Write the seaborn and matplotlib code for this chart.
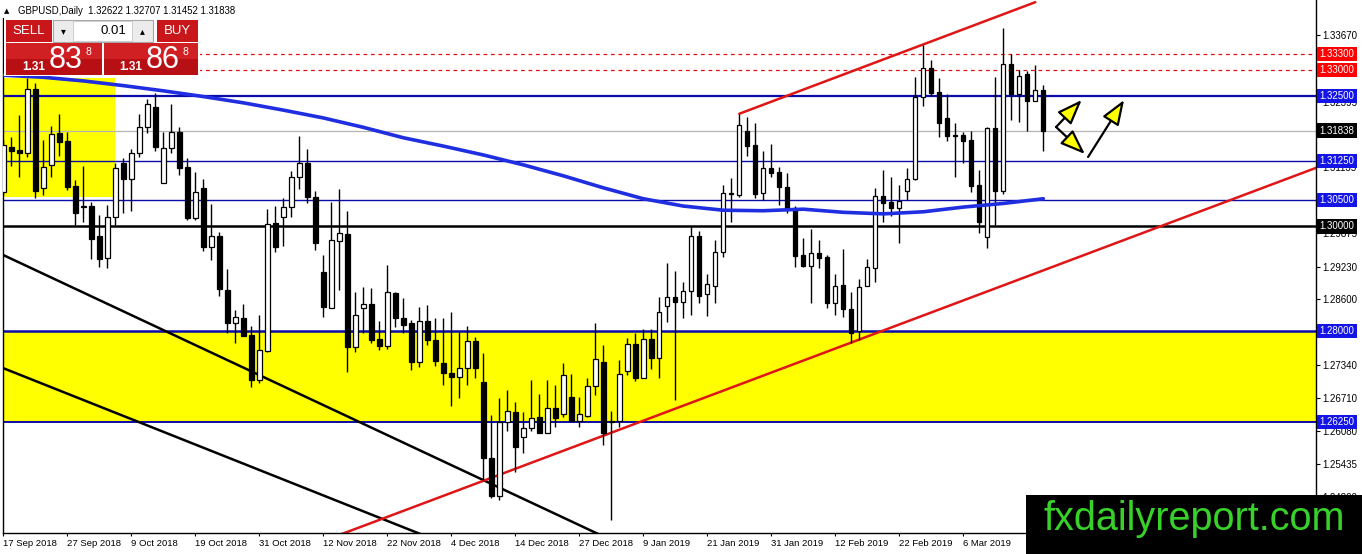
import numpy as np
import pandas as pd
import seaborn as sns
import matplotlib.pyplot as plt
from matplotlib.patches import Rectangle

# daily GBPUSD candles (bar 0 = 17 Sep 2018)
opens = [1.3066, 1.3152, 1.3147, 1.3141, 1.3264, 1.3074, 1.3118, 1.3179, 1.3164, 1.3078,
         1.3037, 1.3039, 1.2982, 1.2939, 1.3018, 1.3122, 1.3091, 1.3141, 1.3191, 1.3229,
         1.3083, 1.3150, 1.3181, 1.3114, 1.3016, 1.3074, 1.2960, 1.2982, 1.2878, 1.2815,
         1.2825, 1.2792, 1.2705, 1.2761, 1.3006, 1.3018, 1.3037, 1.3095, 1.3122, 1.3056,
         1.2913, 1.2843, 1.2972, 1.2985, 1.2769, 1.2843, 1.2851, 1.2784, 1.2771, 1.2872,
         1.2825, 1.2815, 1.2740, 1.2818, 1.2782, 1.2738, 1.2719, 1.2711, 1.2728, 1.2780,
         1.2702, 1.2556, 1.2483, 1.2625, 1.2644, 1.2596, 1.2613, 1.2634, 1.2604, 1.2652,
         1.2640, 1.2673, 1.2627, 1.2636, 1.2694, 1.2740, 1.2627, 1.2627, 1.2723, 1.2774,
         1.2709, 1.2784, 1.2748, 1.2847, 1.2865, 1.2855, 1.2876, 1.2982, 1.2870, 1.2886,
         1.2951, 1.3062, 1.3060, 1.3183, 1.3156, 1.3064, 1.3112, 1.3104, 1.3076, 1.3035,
         1.2945, 1.2924, 1.2949, 1.2941, 1.2853, 1.2888, 1.2841, 1.2799, 1.2886, 1.2920,
         1.3058, 1.3047, 1.3035, 1.3068, 1.3091, 1.3248, 1.3304, 1.3258, 1.3208, 1.3175,
         1.3175, 1.3166, 1.3079, 1.2980, 1.3189, 1.3068, 1.3312, 1.3254, 1.3292, 1.3240,
         1.32622]
highs = [1.3166, 1.3171, 1.3214, 1.3285, 1.3275, 1.3166, 1.3193, 1.3216, 1.3181, 1.3089,
         1.3116, 1.3047, 1.3022, 1.3041, 1.3122, 1.3131, 1.3148, 1.3216, 1.3244, 1.3256,
         1.3181, 1.3235, 1.3191, 1.3131, 1.3104, 1.3091, 1.3043, 1.2989, 1.2918, 1.2840,
         1.2851, 1.2809, 1.2830, 1.3033, 1.3039, 1.3054, 1.3106, 1.3173, 1.3148, 1.3068,
         1.2945, 1.3047, 1.3072, 1.3030, 1.2874, 1.2884, 1.2882, 1.2819, 1.2926, 1.2874,
         1.2863, 1.2820, 1.2845, 1.2849, 1.2825, 1.2825, 1.2836, 1.2798, 1.2809, 1.2788,
         1.2757, 1.2638, 1.2671, 1.2686, 1.2663, 1.2644, 1.2705, 1.2679, 1.2705, 1.2696,
         1.2738, 1.2717, 1.2673, 1.2709, 1.2815, 1.2773, 1.2646, 1.2744, 1.2786, 1.2796,
         1.2803, 1.2803, 1.2865, 1.2930, 1.2914, 1.2893, 1.3001, 1.2991, 1.2909, 1.2974,
         1.3079, 1.3093, 1.3216, 1.3210, 1.3198, 1.3145, 1.3158, 1.3114, 1.3102, 1.3039,
         1.2978, 1.2995, 1.2974, 1.2945, 1.2909, 1.2957, 1.2874, 1.2899, 1.2937, 1.3074,
         1.3108, 1.3095, 1.3079, 1.3112, 1.3287, 1.3348, 1.3319, 1.3285, 1.3254, 1.3198,
         1.3181, 1.3183, 1.3108, 1.3191, 1.3287, 1.3381, 1.3331, 1.3300, 1.3298, 1.3310,
         1.32707]
lows = [1.3060, 1.3116, 1.3095, 1.3133, 1.3054, 1.3060, 1.3095, 1.3135, 1.3070, 1.3003,
        1.3008, 1.2937, 1.2922, 1.2920, 1.3003, 1.3026, 1.3030, 1.3133, 1.3179, 1.3145,
        1.3083, 1.3141, 1.3099, 1.3012, 1.3012, 1.2953, 1.2936, 1.2867, 1.2796, 1.2776,
        1.2790, 1.2692, 1.2700, 1.2759, 1.2951, 1.2962, 1.3018, 1.3072, 1.3045, 1.2955,
        1.2826, 1.2843, 1.2878, 1.2721, 1.2759, 1.2796, 1.2776, 1.2763, 1.2765, 1.2807,
        1.2796, 1.2725, 1.2730, 1.2772, 1.2732, 1.2696, 1.2655, 1.2671, 1.2696, 1.2709,
        1.2514, 1.2479, 1.2475, 1.2608, 1.2529, 1.2565, 1.2608, 1.2604, 1.2604, 1.2615,
        1.2634, 1.2627, 1.2615, 1.2634, 1.2677, 1.2581, 1.2437, 1.2615, 1.2715, 1.2704,
        1.2709, 1.2726, 1.2709, 1.2817, 1.2667, 1.2824, 1.2830, 1.2853, 1.2828, 1.2853,
        1.2941, 1.3008, 1.3056, 1.3135, 1.3054, 1.3051, 1.3095, 1.3041, 1.3026, 1.2922,
        1.2922, 1.2853, 1.2920, 1.2843, 1.2830, 1.2826, 1.2776, 1.2782, 1.2886, 1.2893,
        1.3008, 1.3020, 1.2968, 1.3051, 1.3089, 1.3231, 1.3250, 1.3171, 1.3164, 1.3095,
        1.3122, 1.3066, 1.2987, 1.2958, 1.3003, 1.3062, 1.3204, 1.3200, 1.3183, 1.3240,
        1.31452]
closes = [1.3156, 1.3145, 1.3141, 1.3264, 1.3068, 1.3114, 1.3177, 1.3162, 1.3076, 1.3026,
          1.3038, 1.2976, 1.2937, 1.3018, 1.3112, 1.3091, 1.3141, 1.3191, 1.3235, 1.3152,
          1.3150, 1.3181, 1.3112, 1.3016, 1.3066, 1.2960, 1.2982, 1.2880, 1.2815, 1.2826,
          1.2790, 1.2705, 1.2763, 1.3005, 1.2960, 1.3037, 1.3095, 1.3122, 1.3056, 1.2968,
          1.2845, 1.2974, 1.2987, 1.2769, 1.2830, 1.2851, 1.2782, 1.2771, 1.2874, 1.2825,
          1.2811, 1.2740, 1.2818, 1.2782, 1.2742, 1.2719, 1.2711, 1.2728, 1.2780, 1.2728,
          1.2556, 1.2483, 1.2625, 1.2646, 1.2577, 1.2613, 1.2632, 1.2604, 1.2652, 1.2632,
          1.2715, 1.2627, 1.2640, 1.2694, 1.2746, 1.2604, 1.2625, 1.2717, 1.2774, 1.2709,
          1.2784, 1.2748, 1.2836, 1.2865, 1.2855, 1.2876, 1.2982, 1.2867, 1.2889, 1.2951,
          1.3064, 1.3063, 1.3194, 1.3154, 1.3062, 1.3112, 1.3102, 1.3076, 1.3035, 1.2943,
          1.2924, 1.2949, 1.2939, 1.2853, 1.2886, 1.2841, 1.2796, 1.2884, 1.2922, 1.3058,
          1.3045, 1.3035, 1.3049, 1.3091, 1.3248, 1.3304, 1.3256, 1.3198, 1.3173, 1.3174,
          1.3164, 1.3078, 1.3008, 1.3189, 1.3068, 1.3312, 1.3254, 1.3289, 1.3240, 1.3262,
          1.31838]

# moving average, sampled every 5 bars
ma_bars = [0, 5, 10, 15, 20, 25, 30, 35, 40, 45, 50, 55, 60, 65, 70, 75, 80, 85, 90,
           95, 100, 105, 110, 115, 120, 125, 130]
ma_vals = [1.3290, 1.3286, 1.3279, 1.3270, 1.3260, 1.3249, 1.3237, 1.3223, 1.3208,
           1.3190, 1.3170, 1.3154, 1.3137, 1.3118, 1.3097, 1.3074, 1.3053, 1.3039,
           1.3031, 1.3030, 1.3033, 1.3027, 1.3024, 1.3028, 1.3037, 1.3044, 1.3053]

date_labels = ['17 Sep 2018', '27 Sep 2018', '9 Oct 2018', '19 Oct 2018', '31 Oct 2018',
               '12 Nov 2018', '22 Nov 2018', '4 Dec 2018', '14 Dec 2018', '27 Dec 2018',
               '9 Jan 2019', '21 Jan 2019', '31 Jan 2019', '12 Feb 2019', '22 Feb 2019',
               '6 Mar 2019']
price_ticks = [1.33670, 1.33040, 1.32395, 1.31765, 1.31135, 1.30505, 1.29875, 1.29230,
               1.28600, 1.27970, 1.27340, 1.26710, 1.26080, 1.25435, 1.24800]

# drawn levels: (price, colour, width, style, label box colour)
levels = [(1.33300, '#e01010', 0.9, (0, (3, 3)), '#ff0000'),
          (1.33000, '#e01010', 0.9, (0, (3, 3)), '#ff0000'),
          (1.32500, '#0b0ba8', 1.6, '-', '#1414e6'),
          (1.31838, '#b4b4b4', 0.9, '-', '#000000'),
          (1.31250, '#0b0ba8', 1.0, '-', '#1414e6'),
          (1.30500, '#0b0ba8', 1.0, '-', '#1414e6'),
          (1.30000, '#000000', 1.8, '-', '#000000'),
          (1.28000, '#0b0ba8', 1.8, '-', '#1414e6'),
          (1.26250, '#0b0ba8', 1.4, '-', '#1414e6')]

zone_low, zone_high = 1.2625, 1.2800
box_bars = (-0.04, 13.96)
box_prices = (1.3057, 1.3285)

# trend lines as two anchor points (bar, price)
red_upper = [(92.0, 1.3216), (129.0, 1.3430)]
red_lower = [(49.6, 1.2452), (79.6, 1.2625)]
black_1 = [(0.0, 1.2945), (72.7, 1.2422)]
black_2 = [(0.0, 1.2728), (47.7, 1.2437)]

arrows = [((131.6, 1.31906), (134.8, 1.32424)),
          ((131.6, 1.31906), (135.2, 1.31388)),
          ((135.6, 1.31331), (140.1, 1.32424))]

W, H = 1362, 554

sns.set_style('white')
plt.rcParams['font.family'] = ['Liberation Sans', 'DejaVu Sans']

df = pd.DataFrame({'open': opens, 'high': highs, 'low': lows, 'close': closes})
df['bar'] = np.arange(len(df))
up = df['close'] >= df['open']
df['lo'] = df[['open', 'close']].min(axis=1)
df['size'] = (df['close'] - df['open']).abs().clip(lower=0.00012)

fig = plt.figure(figsize=(W / 100, H / 100), dpi=100)
ax = fig.add_axes([3 / W, 21 / H, 1313 / W, 533 / H])
ax.set_xlim(-0.04, 164.09)
ax.set_ylim(1.24119, 1.34342)

# zones
ax.axhspan(zone_low, zone_high, color='#ffff00', lw=0, zorder=0.5)
ax.add_patch(Rectangle((box_bars[0], box_prices[0]), box_bars[1] - box_bars[0],
                       box_prices[1] - box_prices[0], color='#ffff00', lw=0, zorder=0.5))

# horizontal levels
for price, col, lw, ls, _ in levels:
    ax.axhline(price, color=col, lw=lw, ls=ls, zorder=1.5)


def trend(pts, x0, x1, col):
    (a, pa), (b, pb) = pts
    k = (pb - pa) / (b - a)
    xs = np.array([x0, x1])
    sns.lineplot(x=xs, y=pa + k * (xs - a), ax=ax, color=col, lw=1.8, zorder=2)


trend(black_1, -1, 80, '#000000')
trend(black_2, -1, 55, '#000000')
trend(red_lower, 40, 166, '#e01515')
trend(red_upper, 92.0, 129.0, '#e01515')

# candles
ax.vlines(df['bar'], df['low'], df['high'], color='black', lw=1, zorder=3)
ax.bar(df['bar'][up], df['size'][up], bottom=df['lo'][up], width=0.55,
       color='white', edgecolor='black', lw=0.9, zorder=3.5)
ax.bar(df['bar'][~up], df['size'][~up], bottom=df['lo'][~up], width=0.55,
       color='black', edgecolor='black', lw=0.9, zorder=3.5)

# moving average
sns.lineplot(x=ma_bars, y=ma_vals, ax=ax, color='#1f2ee0', lw=2.6, zorder=4)

for start, end in arrows:
    ax.annotate('', xy=end, xytext=start, zorder=5,
                arrowprops=dict(arrowstyle='-|>,head_length=0.85,head_width=0.32',
                                mutation_scale=18, fc='#ffff00', ec='black', lw=1.6,
                                shrinkA=0, shrinkB=0))

# axes look
for side in ['left', 'right', 'bottom']:
    ax.spines[side].set_color('black')
    ax.spines[side].set_linewidth(1)
ax.spines['top'].set_visible(False)
ax.yaxis.tick_right()
ax.set_yticks(price_ticks)
ax.set_yticklabels(['%.5f' % p for p in price_ticks])
ax.tick_params(axis='y', right=True, left=False, length=3, width=0.8, pad=1.5,
               labelsize=7, colors='black')
ax.set_xticks(np.arange(0, 8 * len(date_labels), 8))
ax.set_xticklabels(date_labels, ha='left')
ax.tick_params(axis='x', bottom=True, length=2.5, width=0.8, pad=1.5, labelsize=6.8,
               colors='black')
ax.set_xlabel('')
ax.set_ylabel('')
ax.grid(False)

# price label boxes on the right axis
for price, _, _, _, box in levels:
    ax.text(1 + 3.5 / 1313, price, '%.5f' % price, transform=ax.get_yaxis_transform(),
            color='white', fontsize=7, va='center', ha='left', clip_on=False, zorder=6,
            bbox=dict(boxstyle='square,pad=0.22', fc=box, ec='none'))


# trading panel in the top-left corner (figure pixels)
def fig_rect(x0, y0, x1, y1, **kw):
    fig.add_artist(Rectangle((x0 / W, 1 - y1 / H), (x1 - x0) / W, (y1 - y0) / H,
                             transform=fig.transFigure, zorder=8, **kw))


def fig_text(x, y, s, **kw):
    fig.text(x / W, 1 - y / H, s, zorder=9, **kw)


red = '#c8161b'
fig_rect(0, 0, 240, 18, fc='white', ec='none')
fig_text(4, 11, '\u25b2', fontsize=5, va='center', color='black',
         family=['DejaVu Sans'])
fig_text(18, 11, 'GBPUSD,Daily  1.32622 1.32707 1.31452 1.31838', fontsize=6.9,
         va='center', color='black')
fig_rect(4, 18, 200, 76, fc='white', ec='none')
fig_rect(6, 20, 52, 42, fc=red, ec='none')
fig_text(29, 31.5, 'SELL', fontsize=9.5, color='white', ha='center', va='center')
fig_rect(157, 20, 198, 42, fc=red, ec='none')
fig_text(177.5, 31.5, 'BUY', fontsize=9.5, color='white', ha='center', va='center')
fig_rect(53, 20, 153, 42, fc='#ececec', ec='#a8a8a8', lw=0.8)
fig_rect(73, 21, 132, 41, fc='white', ec='#c8c8c8', lw=0.6)
fig_text(63, 31, '\u25be', fontsize=7, ha='center', va='center', color='black',
         family=['DejaVu Sans'])
fig_text(142, 31, '\u25b4', fontsize=7, ha='center', va='center', color='black',
         family=['DejaVu Sans'])
fig_text(126, 31.5, '0.01', fontsize=9.5, ha='right', va='center', color='black')
for x0, x1, big, tx in [(6, 102, '83', 22), (104, 198, '86', 119)]:
    fig_rect(x0, 43, x1, 59, fc='#d02024', ec='none')
    fig_rect(x0, 59, x1, 75, fc='#b80f14', ec='none')
    fig_text(tx, 70, '1.31', fontsize=8.5, fontweight='bold', color='white',
             va='baseline')
    fig_text(tx + 27, 68, big, fontsize=22, color='white', va='baseline')
    fig_text(tx + 64, 55, '8', fontsize=7.5, color='white', va='baseline')

# watermark box
fig_rect(1026, 495, 1362, 554, fc='black', ec='none')
fig_text(1043, 530, 'fxdailyreport.com', fontsize=28.5, color='#38d12a', va='baseline')

fig.savefig('out.png', dpi=100)
